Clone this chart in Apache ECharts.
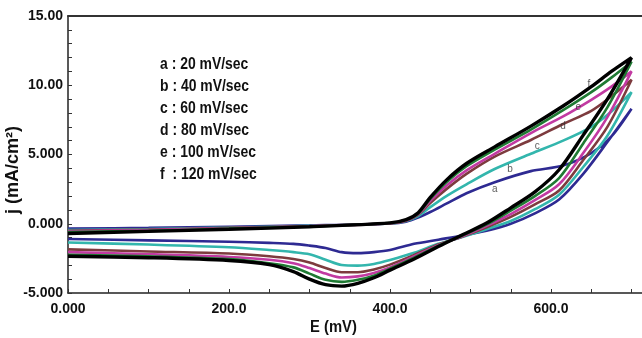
<!DOCTYPE html>
<html>
<head>
<meta charset="utf-8">
<script src="https://cdn.jsdelivr.net/npm/echarts@6/dist/echarts.min.js"></script>
<style>
  html, body { margin: 0; padding: 0; background: #fff; }
  #main { width: 642px; height: 338px; }
</style>
</head>
<body>
<div id="main"></div>
<script>
// scan potentials (mV): forward sweep and reverse sweep
var upE = [0, 100, 200, 300, 400, 420, 435, 450, 470, 495, 530, 575, 615, 650, 675, 700];
var loE = [700, 670, 640, 610, 580, 550, 520, 490, 460, 430, 400, 380, 360, 340, 320, 300, 280, 250, 200, 100, 0];

// current density (mA/cm2), forward sweep
var upA = [-0.35, -0.3, -0.22, -0.12, 0.02, 0.15, 0.45, 0.85, 1.45, 2.2, 3.0, 3.8, 4.2, 5.1, 6.3, 8.3];
var upB = [-0.45, -0.38, -0.28, -0.15, 0.02, 0.2, 0.55, 1.2, 2.0, 2.85, 3.95, 5.05, 6.0, 7.0, 8.1, 9.5];
var upC = [-0.5, -0.42, -0.3, -0.17, 0.03, 0.22, 0.65, 1.5, 2.5, 3.6, 4.85, 6.05, 7.2, 8.15, 9.2, 10.4];
var upD = [-0.55, -0.45, -0.32, -0.18, 0.04, 0.25, 0.7, 1.65, 2.75, 3.85, 5.05, 6.55, 7.75, 8.95, 9.9, 11.0];
var upE2 = [-0.6, -0.5, -0.35, -0.2, 0.05, 0.28, 0.75, 1.8, 3.0, 4.15, 5.35, 6.8, 8.2, 9.5, 10.55, 11.7];
var upF = [-0.7, -0.55, -0.4, -0.22, 0.06, 0.3, 0.8, 1.9, 3.15, 4.35, 5.55, 7.05, 8.5, 9.9, 11.0, 12.0];

// reverse sweep
var loA = [8.3, 5.9, 3.6, 1.75, 0.75, 0.0, -0.5, -0.85, -1.15, -1.45, -1.9, -2.05, -2.12, -2.05, -1.75, -1.58, -1.45, -1.38, -1.3, -1.2, -1.1];
var loB = [9.5, 6.35, 4.1, 2.1, 1.05, 0.2, -0.4, -0.95, -1.45, -2.1, -2.62, -2.9, -3.02, -2.98, -2.6, -2.2, -2.05, -1.9, -1.7, -1.5, -1.35];
var loC = [10.4, 7.0, 4.6, 2.4, 1.4, 0.5, -0.25, -0.92, -1.5, -2.25, -2.95, -3.3, -3.5, -3.5, -3.2, -2.8, -2.55, -2.35, -2.15, -2.0, -1.85];
var loD = [11.0, 7.7, 5.1, 2.85, 1.7, 0.7, -0.15, -0.9, -1.55, -2.35, -3.15, -3.55, -3.8, -3.88, -3.6, -3.2, -2.85, -2.6, -2.4, -2.2, -2.05];
var loE2 = [11.7, 8.4, 5.8, 3.3, 2.0, 0.95, -0.05, -0.85, -1.6, -2.45, -3.25, -3.75, -4.05, -4.2, -4.05, -3.6, -3.15, -2.85, -2.55, -2.35, -2.25];
var loF = [12.0, 9.0, 6.4, 3.9, 2.3, 1.15, 0.05, -0.8, -1.65, -2.55, -3.35, -3.9, -4.3, -4.5, -4.4, -4.0, -3.45, -2.95, -2.65, -2.45, -2.35];

var legendLines = ['a : 20 mV/sec', 'b : 40 mV/sec', 'c : 60 mV/sec', 'd : 80 mV/sec', 'e : 100 mV/sec', 'f  : 120 mV/sec'];
// curve letters placed on the plot [E, j, letter]
var curveTags = [[530, 2.49, 'a'], [549, 3.93, 'b'], [583, 5.6, 'c'], [615, 7.03, 'd'], [634, 8.4, 'e'], [647, 10.06, 'f']];

var curves = [
  { up: upA, lo: loA, color: '#2e2a92', w: 2.6 },
  { up: upB, lo: loB, color: '#33b6ad', w: 2.6 },
  { up: upC, lo: loC, color: '#7d3b3e', w: 2.6 },
  { up: upD, lo: loD, color: '#c23aa2', w: 2.6 },
  { up: upE2, lo: loE2, color: '#1f7a33', w: 2.6 },
  { up: upF, lo: loF, color: '#000000', w: 3.4 }
];

var font = "'Liberation Sans', Arial, sans-serif";

var myChart = echarts.init(document.getElementById('main'), null, { renderer: 'canvas' });

var series = [];
for (var i = 0; i < curves.length; i++) {
  var c = curves[i];
  var pts = [];
  for (var k = 0; k < upE.length; k++) pts.push([upE[k], c.up[k]]);
  for (var m = 1; m < loE.length; m++) pts.push([loE[m], c.lo[m]]);
  series.push({
    type: 'line',
    data: pts,
    smooth: 0.3,
    symbol: 'none',
    lineStyle: { color: c.color, width: c.w },
    z: 2 + i,
    animation: false
  });
}

// letters on the curves
series.push({
  type: 'scatter',
  data: curveTags.map(function(t) { return [t[0], t[1], t[2]]; }),
  symbolSize: 0,
  label: {
    show: true,
    position: 'inside',
    formatter: function(p) { return p.value[2]; },
    fontFamily: font,
    fontSize: 10,
    color: '#333'
  },
  z: 20,
  animation: false
});

var graphics = [];
for (var g = 0; g < legendLines.length; g++) {
  graphics.push({
    type: 'text',
    x: 160,
    y: 56 + g * 22,
    scaleX: 0.82,
    style: { text: legendLines[g], font: 'bold 17px ' + font, fill: '#111' }
  });
}
graphics.push({
  type: 'text',
  x: 310,
  y: 319,
  scaleX: 0.87,
  style: { text: 'E (mV)', font: 'bold 17px ' + font, fill: '#111' }
});
graphics.push({
  type: 'text',
  x: 4,
  y: 214,
  rotation: Math.PI / 2,
  style: { text: 'j (mA/cm²)', font: 'bold 18px ' + font, fill: '#111' }
});

var options = {
  backgroundColor: '#fff',
  animation: false,
  grid: { left: 68, right: 0, top: 16, bottom: 45 },
  xAxis: [{
    type: 'value',
    min: 0,
    max: 713,
    interval: 50,
    axisLine: { onZero: false, lineStyle: { color: '#222', width: 1.5 } },
    axisTick: { inside: true, length: 4, lineStyle: { color: '#333' } },
    splitLine: { show: false },
    axisLabel: {
      margin: 9,
      fontFamily: font,
      fontWeight: 'bold',
      fontSize: 14,
      color: '#111',
      showMaxLabel: false,
      formatter: function(v) {
        if (v % 200 !== 0) return '';
        return v === 0 ? '0.000' : v.toFixed(1);
      }
    }
  }, {
    type: 'value',
    position: 'top',
    min: 0,
    max: 713,
    axisLine: { show: true, onZero: false, lineStyle: { color: '#333', width: 2 } },
    axisTick: { show: false },
    axisLabel: { show: false },
    splitLine: { show: false }
  }],
  yAxis: {
    type: 'value',
    min: -5,
    max: 15,
    interval: 1,
    axisLine: { show: true, onZero: false, lineStyle: { color: '#222', width: 1.5 } },
    axisTick: { inside: true, length: 4, lineStyle: { color: '#333' } },
    splitLine: { show: false },
    axisLabel: {
      margin: 5,
      fontFamily: font,
      fontWeight: 'bold',
      fontSize: 14,
      color: '#111',
      formatter: function(v) {
        if (v % 5 !== 0) return '';
        return Math.abs(v) >= 10 ? v.toFixed(2) : v.toFixed(3);
      }
    }
  },
  graphic: graphics,
  series: series
};

myChart.setOption(options, true);
</script>
</body>
</html>
